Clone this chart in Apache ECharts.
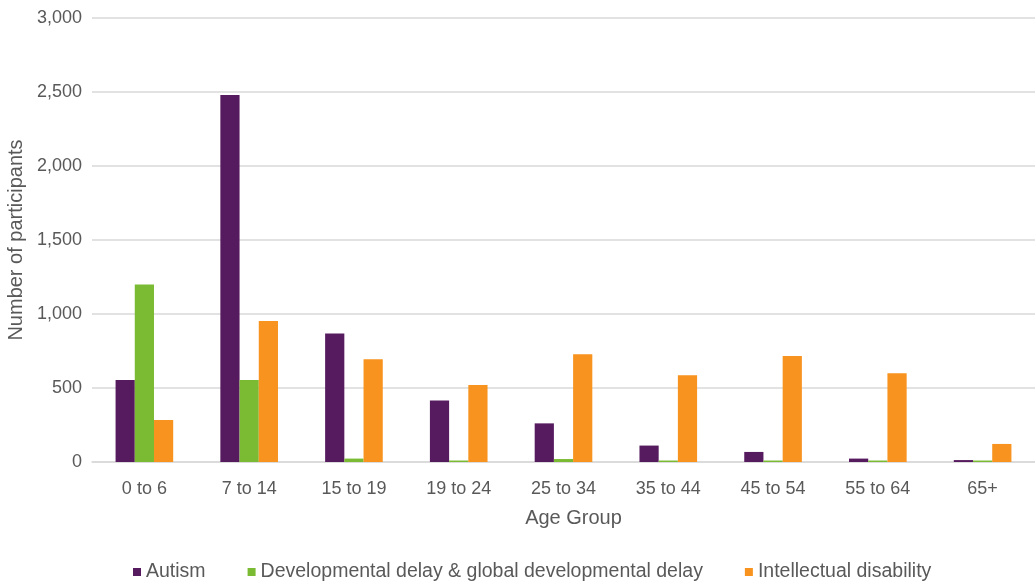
<!DOCTYPE html>
<html>
<head>
<meta charset="utf-8">
<script src="https://cdn.jsdelivr.net/npm/echarts@6/dist/echarts.min.js"></script>
<style>
  html, body { margin: 0; padding: 0; background: #ffffff; }
  #chart { width: 1035px; height: 583px; }
</style>
</head>
<body>
<div id="chart"></div>
<script>
// Participants by age group and primary disability
const ageGroups = ['0 to 6', '7 to 14', '15 to 19', '19 to 24', '25 to 34', '35 to 44', '45 to 54', '55 to 64', '65+'];
const autism = [554, 2480, 868, 415, 261, 111, 68, 23, 13];
const developmentalDelay = [1200, 554, 23, 10, 20, 10, 10, 10, 10];
const intellectualDisability = [284, 953, 694, 520, 728, 586, 716, 599, 122];

const textColor = '#595959';
const fontFamily = '"Liberation Sans", Arial, sans-serif';

const chart = echarts.init(document.getElementById('chart'), null, { renderer: 'canvas' });

function barSeries(name, data, color) {
  return {
    name: name,
    type: 'bar',
    data: data,
    barGap: '0%',
    barCategoryGap: '45%',
    itemStyle: { color: color },
    emphasis: { disabled: true }
  };
}

chart.setOption({
  animation: false,
  textStyle: { fontFamily: fontFamily, color: textColor },
  grid: { left: 92, right: 0, top: 18, bottom: 121, containLabel: false, outerBoundsMode: 'none' },
  legend: {
    top: 557,
    left: 128,
    icon: 'rect',
    itemWidth: 8,
    itemHeight: 8,
    itemGap: 42,
    textStyle: { fontSize: 19.5, color: textColor, fontFamily: fontFamily },
    data: ['Autism', 'Developmental delay & global developmental delay', 'Intellectual disability']
  },
  xAxis: {
    type: 'category',
    data: ageGroups,
    name: 'Age Group',
    nameLocation: 'middle',
    nameGap: 46,
    nameTextStyle: { fontSize: 20, color: textColor, fontFamily: fontFamily, padding: [0, 0, 0, 20] },
    axisLine: { show: true, lineStyle: { color: '#d9d9d9', width: 1.5 } },
    axisTick: { show: false },
    axisLabel: { fontSize: 18, color: textColor, margin: 18, fontFamily: fontFamily }
  },
  yAxis: {
    type: 'value',
    min: 0,
    max: 3000,
    interval: 500,
    name: 'Number of participants',
    nameLocation: 'middle',
    nameRotate: 90,
    nameGap: 65,
    nameTextStyle: { fontSize: 20, color: textColor, fontFamily: fontFamily },
    axisLine: { show: false },
    axisTick: { show: false },
    axisLabel: {
      fontSize: 18,
      color: textColor,
      margin: 10,
      fontFamily: fontFamily,
      formatter: function (v) { return v.toLocaleString('en-US'); }
    },
    splitLine: { lineStyle: { color: '#d9d9d9', width: 1.5 } }
  },
  series: [
    barSeries('Autism', autism, '#561a5e'),
    barSeries('Developmental delay & global developmental delay', developmentalDelay, '#7bbb33'),
    barSeries('Intellectual disability', intellectualDisability, '#f7931e')
  ]
});
</script>
</body>
</html>
